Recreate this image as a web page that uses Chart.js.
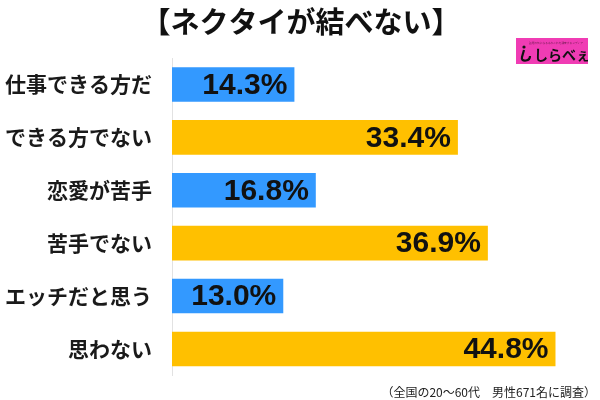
<!DOCTYPE html>
<html>
<head>
<meta charset="utf-8">
<script src="https://cdn.jsdelivr.net/npm/chart.js@4"></script>
<style>
html,body{margin:0;padding:0;background:#fff;}
#wrap{position:relative;width:600px;height:400px;}
</style>
</head>
<body>
<div id="wrap"><canvas id="c" width="600" height="400"></canvas></div>
<script>
const title = "【ネクタイが結べない】";
const categories = ["仕事できる方だ", "できる方でない", "恋愛が苦手", "苦手でない", "エッチだと思う", "思わない"];
const values = [14.3, 33.4, 16.8, 36.9, 13.0, 44.8];
const footnote = "（全国の20～60代　男性671名に調査）";
const logoText = "しらべぇ";

const BLUE = "#3399FF", GOLD = "#FFC000";
const barColors = categories.map((_, i) => i % 2 === 0 ? BLUE : GOLD);

const JP = '"Noto Sans CJK JP", "Noto Sans", sans-serif';

const decor = {
  id: 'decor',
  afterDatasetsDraw(chart) {
    const ctx = chart.ctx;
    const meta = chart.getDatasetMeta(0);
    ctx.save();
    ctx.font = 'bold 30px "Liberation Sans", Arial, sans-serif';
    ctx.textAlign = 'right';
    ctx.textBaseline = 'middle';
    ctx.fillStyle = '#111';
    meta.data.forEach((bar, i) => {
      ctx.fillText(values[i].toFixed(1) + '%', bar.x - 7, bar.y + 1);
    });
    ctx.restore();
  },
  afterDraw(chart) {
    const ctx = chart.ctx;
    ctx.save();
    // title
    ctx.font = 'bold 29px ' + JP;
    ctx.fillStyle = '#111';
    ctx.textAlign = 'center';
    ctx.textBaseline = 'middle';
    ctx.fillText(title, 301, 22);
    // logo
    ctx.fillStyle = '#F03CB4';
    ctx.fillRect(516, 38, 72, 26);
    ctx.save();
    ctx.translate(556, 42.5);
    ctx.scale(0.27, 0.27);
    ctx.fillStyle = '#7a2058';
    ctx.font = '10px ' + JP;
    ctx.textAlign = 'center';
    ctx.fillText('話題の気になるあれこれを調査するメディア', 0, 0);
    ctx.restore();
    // icon
    ctx.fillStyle = '#111';
    ctx.beginPath(); ctx.arc(524, 47, 1.6, 0, Math.PI * 2); ctx.fill();
    ctx.lineWidth = 2.2; ctx.strokeStyle = '#111';
    ctx.beginPath();
    ctx.moveTo(524, 50); ctx.lineTo(522, 57);
    ctx.quadraticCurveTo(521, 61, 526, 60.5);
    ctx.quadraticCurveTo(530, 60, 530, 56);
    ctx.stroke();
    ctx.font = 'bold 14px ' + JP;
    ctx.textAlign = 'left';
    ctx.fillStyle = '#111';
    ctx.fillText(logoText, 534, 55);
    // footnote
    ctx.font = '12px ' + JP;
    ctx.textAlign = 'right';
    ctx.fillStyle = '#222';
    ctx.fillText(footnote, 596, 392);
    ctx.restore();
  }
};

new Chart(document.getElementById('c'), {
  type: 'bar',
  data: {
    labels: categories,
    datasets: [{
      data: values,
      backgroundColor: barColors,
      borderWidth: 0,
      barPercentage: 0.655,
      categoryPercentage: 1.0
    }]
  },
  options: {
    indexAxis: 'y',
    responsive: false,
    animation: false,
    devicePixelRatio: 1,
    layout: { padding: { top: 58, bottom: 12, left: 0, right: 0 } },
    plugins: { legend: { display: false }, tooltip: { enabled: false }, title: { display: false } },
    scales: {
      x: { display: false, min: 0, max: 50 },
      y: {
        grid: { display: false },
        border: { display: true, color: '#e2e2e2', width: 1 },
        ticks: {
          padding: 12,
          color: '#1a1a1a',
          font: { family: JP, size: 21, weight: 'bold' }
        },
        afterFit(scale) { scale.width = 172; }
      }
    }
  },
  plugins: [decor]
});
</script>
</body>
</html>
